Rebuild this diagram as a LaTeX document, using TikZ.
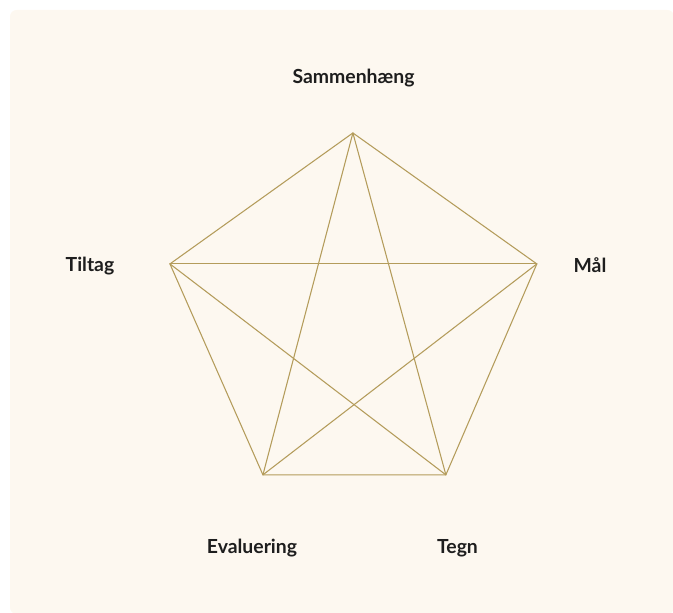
\documentclass[tikz,border=0pt]{standalone}
\usepackage{fontspec}
\setmainfont{Lato}
\usepackage{tikz}
\usetikzlibrary{calc}
\usepackage{tkz-euclide}

\definecolor{cardbg}{HTML}{FDF8F0}
\definecolor{goldline}{HTML}{B49C5B}
\definecolor{labeltext}{HTML}{1E1E1E}

\tikzset{
  lbl/.style={text=labeltext, font=\fontsize{14.6}{16}\selectfont\bfseries, inner sep=0pt}
}

\begin{document}
\begin{tikzpicture}[scale=2.6458]
            % card
            \useasboundingbox (0,0) rectangle (6.73,-6.13);
            \fill[cardbg, rounded corners=5pt] (0.10,-0.10) rectangle (6.74,-6.14);
            % corners of the pentagon
            \tkzDefPoints{3.53/-1.33/S, 5.37/-2.64/M, 4.46/-4.75/T, 2.63/-4.75/E, 1.70/-2.64/L}
            \tkzDrawPolygon[goldline, line width=0.8pt](S,M,T,E,L)
            \tkzDrawSegments[goldline, line width=0.8pt](S,T S,E L,M L,T M,E)
            % labels
            \node[lbl] (sammen) at (3.535,-0.78) {Sammenhæng};
            \node[lbl] (maal) at (5.90,-2.65) {Mål};
            \node[lbl] (tegn) at (4.575,-5.48) {Tegn};
            \node[lbl] (evaluering) at (2.52,-5.48) {Evaluering};
            \node[lbl] (tiltag) at (0.90,-2.66) {Tiltag};
        \end{tikzpicture}
\end{document}
